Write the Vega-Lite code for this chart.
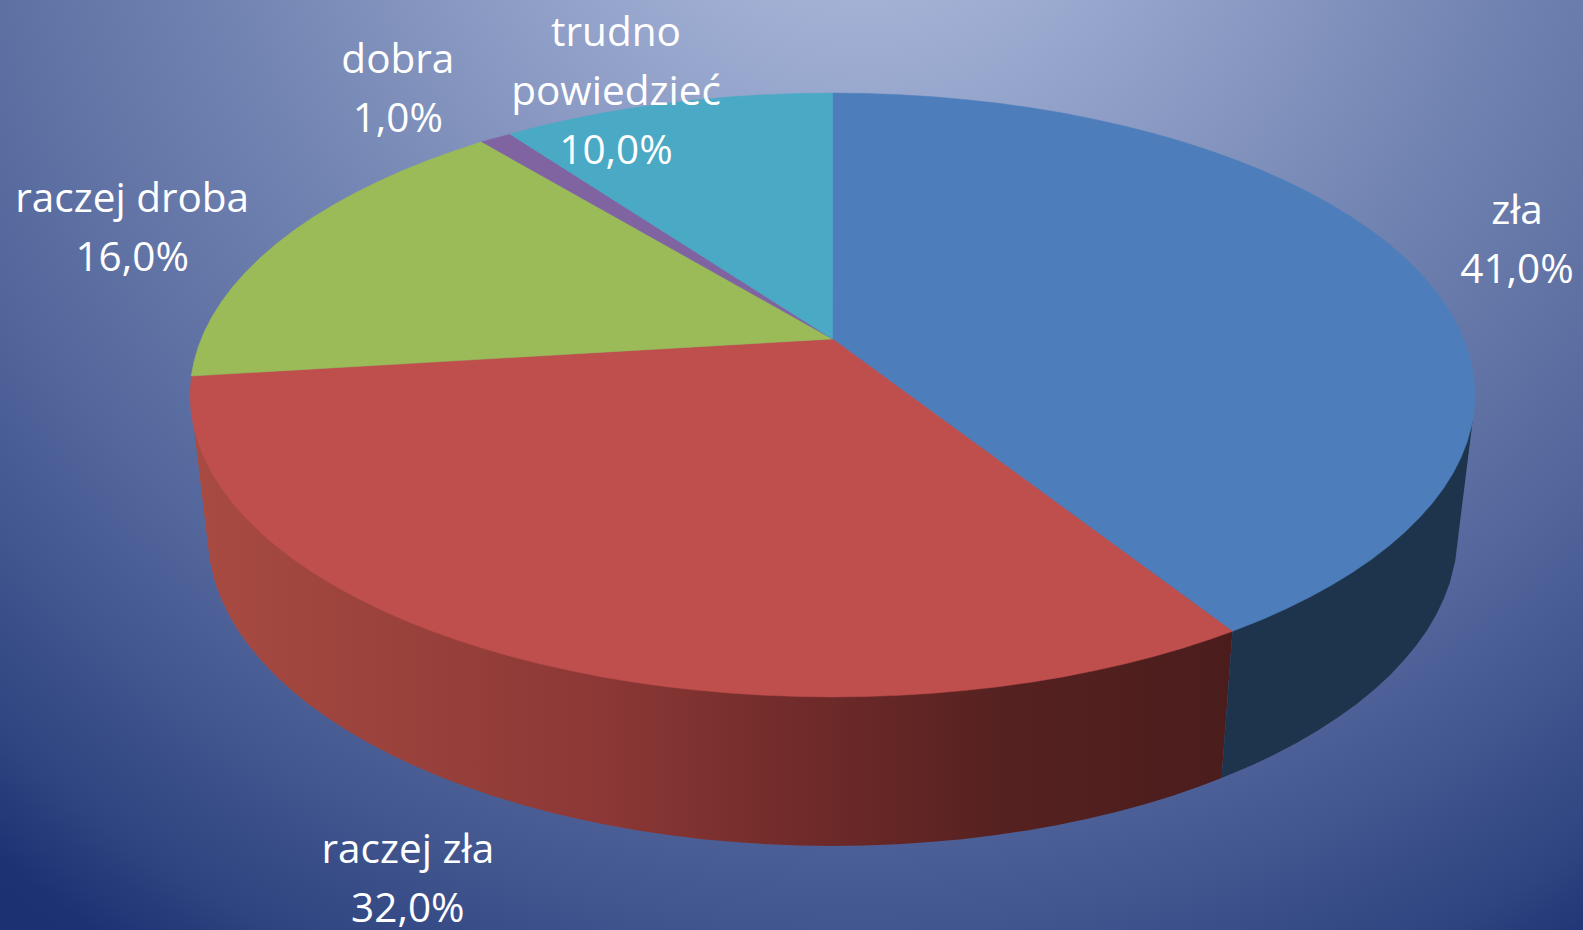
{"$schema":"https://vega.github.io/schema/vega-lite/v6.json","width":1583,"height":930,"padding":0,"autosize":{"type":"fit","contains":"padding"},"background":"#465a92","view":{"stroke":null,"fill":{"gradient":"radial","x1":0.543,"y1":0.08,"r1":0,"x2":0.543,"y2":0.08,"r2":0.884,"stops":[{"offset":0.143,"color":"#a3b1d5"},{"offset":0.47,"color":"#7284b2"},{"offset":0.6,"color":"#6274a5"},{"offset":0.7,"color":"#53679d"},{"offset":0.78,"color":"#465a92"},{"offset":0.91,"color":"#2e4480"},{"offset":0.975,"color":"#1c3273"},{"offset":1,"color":"#1b3172"}]}},"projection":{"type":"identity","reflectY":true,"scale":6.425,"translate":[832.5,395]},"layer":[{"data":{"values":[{"type":"Feature","properties":{"category":"raczej zła"},"geometry":{"type":"Polygon","coordinates":[[[-99.35,-5.45],[62.25,-36.78],[60.56,-59.63],[57.18,-60.91],[52.98,-62.36],[48.64,-63.68],[44.17,-64.9],[39.56,-65.99],[34.87,-66.97],[30.06,-67.81],[25.18,-68.53],[20.22,-69.13],[15.21,-69.59],[10.17,-69.92],[5.09,-70.12],[0,-70.19],[-5.09,-70.12],[-10.17,-69.92],[-15.21,-69.59],[-20.22,-69.13],[-25.18,-68.53],[-30.06,-67.81],[-34.87,-66.97],[-39.56,-65.99],[-44.17,-64.9],[-48.64,-63.68],[-52.98,-62.36],[-57.18,-60.91],[-61.22,-59.37],[-65.09,-57.72],[-68.79,-55.97],[-72.29,-54.12],[-75.6,-52.19],[-78.7,-50.17],[-81.59,-48.08],[-84.25,-45.91],[-86.68,-43.68],[-88.87,-41.38],[-90.82,-39.03],[-92.52,-36.64],[-93.96,-34.2],[-95.15,-31.73],[-96.08,-29.22],[-96.91,-25.86],[-99.35,-5.45]]]}}]},"mark":{"type":"geoshape","stroke":null,"fill":{"gradient":"linear","x1":0,"y1":0,"x2":1,"y2":0,"stops":[{"offset":0,"color":"#a84b42"},{"offset":0.39,"color":"#8c3836"},{"offset":0.585,"color":"#702b2a"},{"offset":0.78,"color":"#552120"},{"offset":1,"color":"#4a1d1c"}]}}},{"data":{"values":[{"type":"Feature","properties":{"category":"zła"},"geometry":{"type":"Polygon","coordinates":[[[62.25,-36.78],[99.62,-4.1],[96.91,-25.86],[96.08,-29.22],[95.15,-31.73],[93.96,-34.2],[92.52,-36.64],[90.82,-39.03],[88.87,-41.38],[86.68,-43.68],[84.25,-45.91],[81.59,-48.08],[78.7,-50.17],[75.6,-52.19],[72.29,-54.12],[68.79,-55.97],[65.09,-57.72],[60.56,-59.63],[62.25,-36.78]]]}}]},"mark":{"type":"geoshape","stroke":null,"fill":"#1e334c"}},{"data":{"values":[{"type":"Feature","properties":{"category":"zła","value":41},"geometry":{"type":"Polygon","coordinates":[[[0,8.72],[0,47],[5.23,46.93],[10.45,46.74],[15.64,46.42],[20.79,45.97],[25.88,45.4],[30.9,44.7],[35.84,43.88],[40.67,42.93],[45.4,41.88],[50,40.7],[54.46,39.42],[58.78,38.02],[62.93,36.52],[66.91,34.93],[70.71,33.23],[74.31,31.45],[77.71,29.58],[80.9,27.63],[83.87,25.6],[86.6,23.5],[89.1,21.34],[91.35,19.11],[93.36,16.84],[95.11,14.52],[96.59,12.16],[97.81,9.77],[98.77,7.35],[99.45,4.91],[99.86,2.46],[100,0],[99.86,-2.46],[99.45,-4.91],[98.77,-7.35],[97.81,-9.77],[96.59,-12.16],[95.11,-14.52],[93.36,-16.84],[91.35,-19.11],[89.1,-21.34],[86.6,-23.5],[83.87,-25.6],[80.9,-27.63],[77.71,-29.58],[74.31,-31.45],[70.71,-33.23],[66.91,-34.93],[62.25,-36.78],[0,8.72]]]}},{"type":"Feature","properties":{"category":"raczej zła","value":32},"geometry":{"type":"Polygon","coordinates":[[[0,8.72],[62.25,-36.78],[58.78,-38.02],[54.46,-39.42],[50,-40.7],[45.4,-41.88],[40.67,-42.93],[35.84,-43.88],[30.9,-44.7],[25.88,-45.4],[20.79,-45.97],[15.64,-46.42],[10.45,-46.74],[5.23,-46.93],[0,-47],[-5.23,-46.93],[-10.45,-46.74],[-15.64,-46.42],[-20.79,-45.97],[-25.88,-45.4],[-30.9,-44.7],[-35.84,-43.88],[-40.67,-42.93],[-45.4,-41.88],[-50,-40.7],[-54.46,-39.42],[-58.78,-38.02],[-62.93,-36.52],[-66.91,-34.93],[-70.71,-33.23],[-74.31,-31.45],[-77.71,-29.58],[-80.9,-27.63],[-83.87,-25.6],[-86.6,-23.5],[-89.1,-21.34],[-91.35,-19.11],[-93.36,-16.84],[-95.11,-14.52],[-96.59,-12.16],[-97.81,-9.77],[-98.77,-7.35],[-99.45,-4.91],[-99.86,-2.46],[-100,0],[-99.8,2.95],[0,8.72]]]}},{"type":"Feature","properties":{"category":"raczej droba","value":16},"geometry":{"type":"Polygon","coordinates":[[[0,8.72],[-99.8,2.95],[-99.45,4.91],[-98.77,7.35],[-97.81,9.77],[-96.59,12.16],[-95.11,14.52],[-93.36,16.84],[-91.35,19.11],[-89.1,21.34],[-86.6,23.5],[-83.87,25.6],[-80.9,27.63],[-77.71,29.58],[-74.31,31.45],[-70.71,33.23],[-66.91,34.93],[-62.93,36.52],[-58.78,38.02],[-54.6,39.4],[0,8.72]]]}},{"type":"Feature","properties":{"category":"dobra","value":1},"geometry":{"type":"Polygon","coordinates":[[[0,8.72],[-54.6,39.4],[-50.2,40.6],[0,8.72]]]}},{"type":"Feature","properties":{"category":"trudno powiedzieć","value":10},"geometry":{"type":"Polygon","coordinates":[[[0,8.72],[-50.2,40.6],[-45.4,41.88],[-40.67,42.93],[-35.84,43.88],[-30.9,44.7],[-25.88,45.4],[-20.79,45.97],[-15.64,46.42],[-10.45,46.74],[-5.23,46.93],[0,47],[0,8.72]]]}}]},"mark":{"type":"geoshape","strokeWidth":0.5},"encoding":{"color":{"field":"properties.category","type":"nominal","scale":{"domain":["zła","raczej zła","raczej droba","dobra","trudno powiedzieć"],"range":["#4d7ebb","#bf4f4c","#9bbb59","#8064a2","#4aa9c4"]},"legend":null},"stroke":{"field":"properties.category","type":"nominal","scale":{"domain":["zła","raczej zła","raczej droba","dobra","trudno powiedzieć"],"range":["#4d7ebb","#bf4f4c","#9bbb59","#8064a2","#4aa9c4"]},"legend":null}}},{"data":{"values":[{"label":"zła\n41,0%","lon":106.54,"lat":26.6},{"label":"raczej zła\n32,0%","lon":-66.1,"lat":-72.8},{"label":"raczej droba\n16,0%","lon":-109,"lat":28.5},{"label":"dobra\n1,0%","lon":-67.65,"lat":50.1},{"label":"trudno\npowiedzieć\n10,0%","lon":-33.7,"lat":54.3}]},"mark":{"type":"text","font":"Open Sans","fontSize":40.5,"color":"#ffffff","align":"center","baseline":"alphabetic","lineBreak":"\n","lineHeight":59},"encoding":{"longitude":{"field":"lon","type":"quantitative"},"latitude":{"field":"lat","type":"quantitative"},"text":{"field":"label","type":"nominal"}}}]}
